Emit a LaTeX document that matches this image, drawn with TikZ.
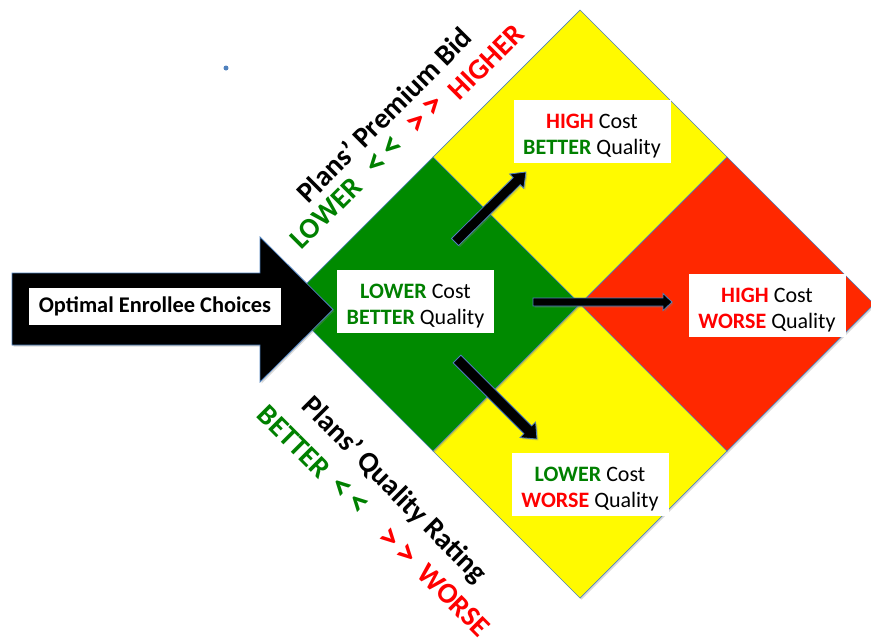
\documentclass[tikz,border=0pt]{standalone}
\usepackage{fontspec}
\setmainfont{Carlito}
\usetikzlibrary{shadows,calc}
\definecolor{dgreen}{RGB}{0,138,0}
\definecolor{dyellow}{RGB}{255,250,0}
\definecolor{dred}{RGB}{255,40,0}
\definecolor{tgreen}{RGB}{0,128,0}
\definecolor{tred}{RGB}{255,0,0}
\definecolor{edgeblue}{RGB}{79,129,189}
\tikzset{
  diam/.style={draw=edgeblue, line width=0.7pt, line join=miter,
    drop shadow={opacity=0.3, shadow xshift=1.5pt, shadow yshift=-1.5pt}},
  blockarrow/.style={fill=black, draw=edgeblue, line width=0.8pt, line join=miter,
    drop shadow={opacity=0.3, shadow xshift=1.5pt, shadow yshift=-1.5pt}},
  infobox/.style={fill=white, inner sep=0pt, minimum width=157pt, minimum height=63pt,
    align=center, font=\fontsize{22}{26}\selectfont},
  rottext/.style={inner sep=0pt, font=\bfseries\fontsize{29}{31}\selectfont},
  rotsym/.style={inner sep=0pt, font=\bfseries\fontsize{36}{38}\selectfont},
}
\newcommand\lowstrut{\rule{0pt}{24pt}}
\newcommand\blockarrowdraw[5]{%
  \path let \p1=(#1), \p2=(#2), \n1={atan2(\y2-\y1,\x2-\x1)}, \n2={veclen(\x2-\x1,\y2-\y1)} in
    \pgfextra{\xdef\baang{\n1}\xdef\balen{\n2}};
  \begin{scope}[shift={(#1)}, rotate=\baang]
    \path[blockarrow] (0,#3) -- (\balen-#5,#3) -- (\balen-#5,#4) -- (\balen,0)
      -- (\balen-#5,-#4) -- (\balen-#5,-#3) -- (0,-#3) -- cycle;
  \end{scope}}
\begin{document}
\begin{tikzpicture}[x=1pt,y=-1pt]
\useasboundingbox (0,0) rectangle (871,638);
% diamonds
\path[diam, fill=dyellow] (580,10) -- (727,157) -- (580,304) -- (433,157) -- cycle;
\path[diam, fill=dyellow] (580,304) -- (727,451) -- (580,598) -- (433,451) -- cycle;
\path[diam, fill=dgreen] (433,157) -- (580,304) -- (433,451) -- (286,304) -- cycle;
\path[diam, fill=dred] (727,157) -- (874,304) -- (727,451) -- (580,304) -- cycle;
% big arrow
\path[blockarrow] (12,273) -- (260,273) -- (260,237) -- (333,309.5) -- (260,382) -- (260,345) -- (12,345) -- cycle;
\node[fill=white, inner sep=0pt, minimum width=252pt, minimum height=37pt,
  font=\bfseries\fontsize{22.4}{26}\selectfont] (enroll) at (155,306.5) {Optimal Enrollee Choices};
% small arrows
\coordinate (a1s) at (455,242); \coordinate (a1e) at (526,172);
\coordinate (a2s) at (533,302); \coordinate (a2e) at (672,302);
\coordinate (a3s) at (457,359); \coordinate (a3e) at (537,439);
\blockarrowdraw{a1s}{a1e}{5}{10}{13}
\blockarrowdraw{a2s}{a2e}{4}{8.5}{9}
\blockarrowdraw{a3s}{a3e}{5.5}{11}{13}
% boxes
\node[infobox] (green) at (415.5,301) {\lowstrut\textbf{\color{tgreen}LOWER} Cost\\\textbf{\color{tgreen}BETTER} Quality};
\node[infobox] (top) at (592,131.5) {\lowstrut\textbf{\color{tred}HIGH} Cost\\\textbf{\color{tgreen}BETTER} Quality};
\node[infobox] (red) at (767,305.5) {\lowstrut\textbf{\color{tred}HIGH} Cost\\\textbf{\color{tred}WORSE} Quality};
\node[infobox] (bottom) at (590,484) {\lowstrut\textbf{\color{tgreen}LOWER} Cost\\\textbf{\color{tred}WORSE} Quality};
% rotated labels, premium bid
\node[rottext, rotate=45] (bid) at (384,115) {Plans’ Premium Bid};
\node[rottext, rotate=45, text=tgreen] (lower) at (326,213) {LOWER};
\node[rotsym, rotate=45, text=tgreen] (lt1) at (385,156) {<\kern6pt<};
\node[rotsym, rotate=45, text=tred] (gt1) at (426,115) {>\kern6pt>};
\node[rottext, rotate=45, text=tred] (higher) at (486,62) {HIGHER};
% rotated labels, quality rating
\node[rottext, rotate=-45] (qual) at (394,490) {Plans’ Quality Rating};
\node[rottext, rotate=-45, text=tgreen] (better) at (294,442) {BETTER};
\node[rotsym, rotate=-45, text=tgreen] (lt2) at (349,496) {<\kern6pt<};
\node[rotsym, rotate=-45, text=tred] (gt2) at (397,547) {>\kern6pt>};
\node[rottext, rotate=-45, text=tred] (worse) at (454,600) {WORSE};
% small dot
\fill[edgeblue] (226,68) circle (2.5pt);
\end{tikzpicture}
\end{document}
